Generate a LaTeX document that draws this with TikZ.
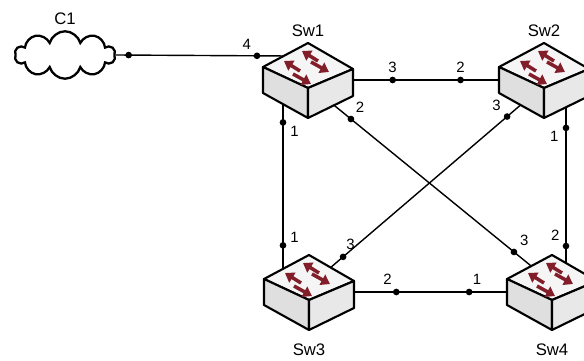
\documentclass[tikz,border=0pt]{standalone}
\usepackage{fontspec}
\setmainfont{Liberation Sans}
\usetikzlibrary{shapes.symbols}
\usetikzlibrary{calc}
\usetikzlibrary{arrows.meta}
\usepackage{xcolor}
\definecolor{wine}{RGB}{130, 30, 42}

\tikzset{
  switchicon/.pic={
    \filldraw[fill=gray!8,line width=1.2pt,line join=round] (0,-37)--(45,-11)--(0,8)--(-45,-13)--cycle;
    \filldraw[fill=gray!25,line width=1.2pt,line join=round] (-45,-13)--(0,8)--(0,38)--(-45,13)--cycle;
    \filldraw[fill=gray!18,line width=1.2pt,line join=round] (0,8)--(45,-11)--(45,16)--(0,38)--cycle;
    \draw[wine,line width=2pt,-{Triangle[length=5pt,width=6.5pt]}] (10,-19)--(-6,-29);
    \draw[wine,line width=2pt,-{Triangle[length=5pt,width=6.5pt]}] (-8,-9)--(-24,-19);
    \draw[wine,line width=2pt,-{Triangle[length=5pt,width=6.5pt]}] (3,-18)--(21,-8);
    \draw[wine,line width=2pt,-{Triangle[length=5pt,width=6.5pt]}] (-15,-6)--(3,4);
  }
}

\begin{document}
\begin{tikzpicture}[x=0.02cm,y=-0.02cm,
  swbox/.style={minimum width=51pt,minimum height=43pt,inner sep=0pt},
  swname/.style={font=\fontsize{9.5}{10}\selectfont,inner sep=1pt},
  link/.style={line width=0.8pt},
  portdot/.style={circle,fill,inner sep=0pt,minimum size=3.8pt},
  portnum/.style={font=\fontsize{8.5}{9}\selectfont,inner sep=1pt,label distance=0.6pt}]
\useasboundingbox (0,0) rectangle (584,361);

% cloud and switches
\node[cloud,draw,line width=1.3pt,cloud puffs=10,minimum width=57pt,minimum height=27pt,
  label={[swname,label distance=2pt]90:C1}] (c1) at (65,55) {};
\node[swbox,label={[swname,label distance=2pt]90:Sw1}] (sw1) at (308,80) {};
\node[swbox,label={[swname,label distance=2pt]90:Sw2}] (sw2) at (544,80) {};
\node[swbox,label={[swname,label distance=6.5pt]-90:Sw3}] (sw3) at (309,292) {};
\node[swbox,label={[swname,label distance=6.5pt]-90:Sw4}] (sw4) at (552,292) {};

% links
\draw[link] (c1.east) -- node[portdot,pos=.075]{} node[portdot,pos=.82,label={[portnum]135:4}]{} ($(sw1)+(-20,-24)$);
\draw[link] (sw1) -- node[portdot,pos=.271,label={[portnum]90:3}]{} node[portdot,pos=.737,label={[portnum]90:2}]{} (sw2);
\draw[link] ($(sw1)+(-25,0)$) -- node[portdot,pos=.2,label={[portnum]-20:1}]{} node[portdot,pos=.78,label={[portnum]10:1}]{} ($(sw3)+(-26,0)$);
\draw[link] ($(sw1)+(0,4)$) -- node[portdot,pos=.176,label={[portnum]60:2}]{} node[portdot,pos=.844,label={[portnum]45:3}]{} ($(sw4)+(0,-9)$);
\draw[link] ($(sw2)+(0,5)$) -- node[portdot,pos=.157,label={[portnum]140:3}]{} node[portdot,pos=.855,label={[portnum]80:3}]{} ($(sw3)+(0,-6)$);
\draw[link] ($(sw2)+(22,0)$) -- node[portdot,pos=.226,label={[portnum]190:1}]{} node[portdot,pos=.783,label={[portnum]145:2}]{} ($(sw4)+(14,0)$);
\draw[link] (sw3) -- node[portdot,pos=.276,label={[portnum]115:2}]{} node[portdot,pos=.753,label={[portnum]75:1}]{} (sw4);

% switch icons on top
\pic at (sw1) {switchicon};
\pic at (sw2) {switchicon};
\pic at (sw3) {switchicon};
\pic at (sw4) {switchicon};
\end{tikzpicture}
\end{document}
